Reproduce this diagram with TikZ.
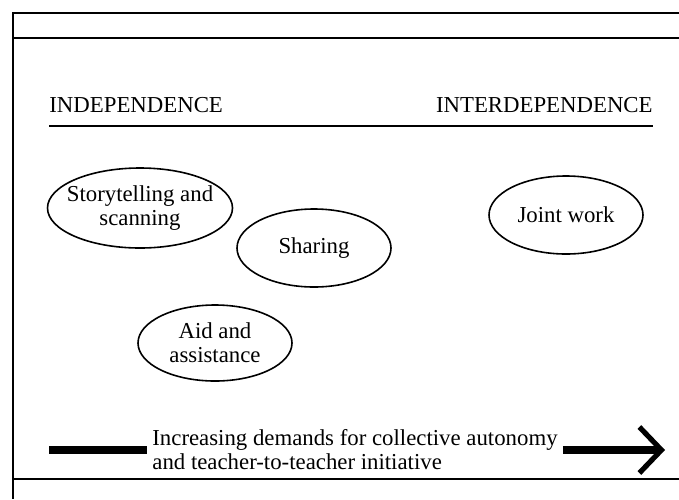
\documentclass[tikz,border=0pt]{standalone}
\usepackage{fontspec}
\setmainfont{Liberation Serif}
\usepackage{tikz}
\usetikzlibrary{shapes.geometric,arrows.meta}

\begin{document}
\begin{tikzpicture}[
    x=0.5pt, y=-0.5pt,
    font=\fontsize{11.4pt}{12pt}\selectfont,
    blob/.style={ellipse, draw, line width=0.8pt, inner sep=0pt},
    rule/.style={line width=0.8pt},
    bar/.style={line width=4pt}
]
\useasboundingbox (0,0) rectangle (679,499);

% frame
\draw[rule] (679,13) -- (13,13) -- (13,499);
\draw[rule] (13,38) -- (679,38);
\draw[rule] (13,479) -- (679,479);

% scale ends
\node[anchor=base west, inner sep=0pt] (indep) at (49,112) {INDEPENDENCE};
\node[anchor=base east, inner sep=0pt] (interdep) at (653,112) {INTERDEPENDENCE};
\draw[rule] (49,126) -- (653,126);

% forms of collegial relations
\node[blob, minimum width=92.5pt, minimum height=40pt,
      label={[align=center]center:Storytelling and\\scanning}] (story) at (140,208) {};
\node[blob, minimum width=77pt, minimum height=39pt,
      label={center:Sharing}] (sharing) at (314,248) {};
\node[blob, minimum width=77pt, minimum height=38pt,
      label={[align=center]center:Aid and\\assistance}] (aid) at (215,343) {};
\node[blob, minimum width=77pt, minimum height=39pt,
      label={center:Joint work}] (joint) at (566,215) {};

% continuum
\node[anchor=west, align=left, inner sep=2.5pt] (demands) at (147,450)
    {Increasing demands for collective autonomy\\and teacher-to-teacher initiative};
\coordinate (tail) at (49,450);
\coordinate (head) at (665,450);
\draw[bar] (tail) -- (demands.west);
\draw[bar, -{Straight Barb[length=11pt, width=23pt, line width=2.6pt]}] (demands.east) -- (head);

\end{tikzpicture}
\end{document}
